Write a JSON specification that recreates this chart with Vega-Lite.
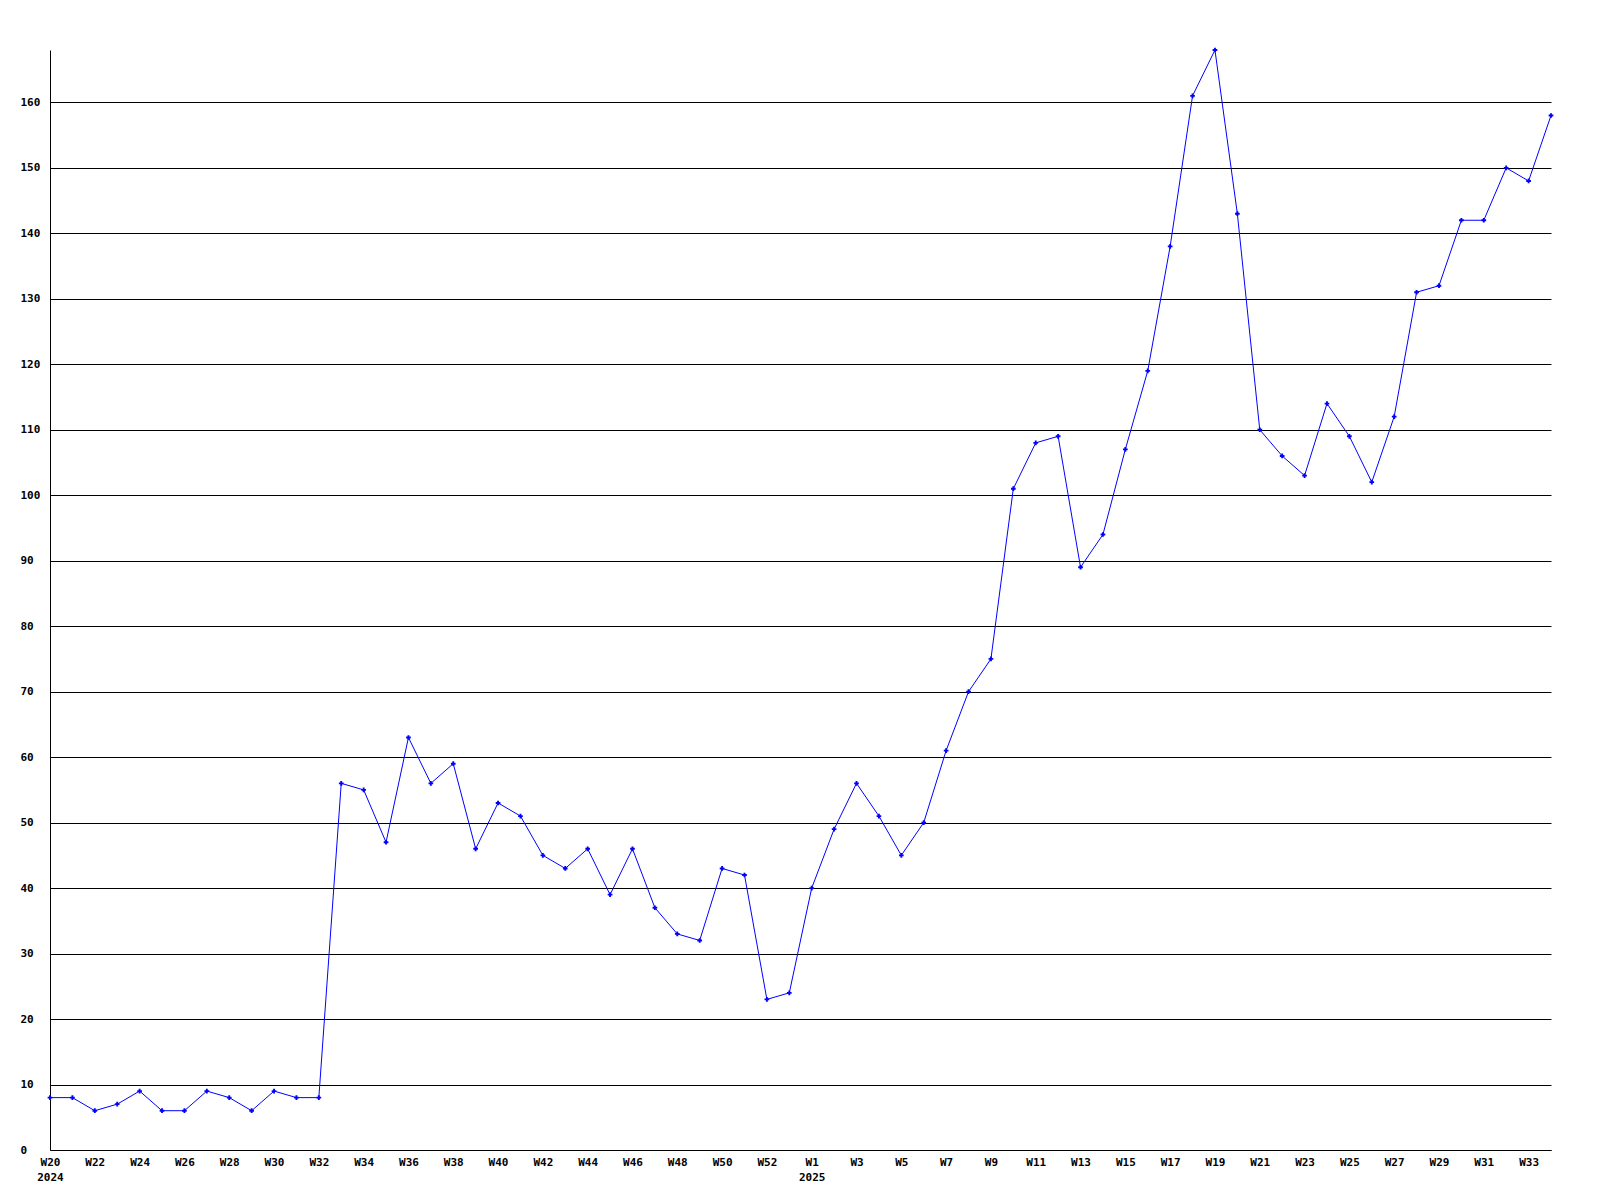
{
  "$schema": "https://vega.github.io/schema/vega-lite/v6.json",
  "autosize": {"type": "none"},
  "padding": {"left": 50, "top": 50, "right": 49, "bottom": 50},
  "width": 1501,
  "height": 1100,
  "background": "white",
  "config": {"view": {"stroke": null}},
  "data": {"values": [
    {"week": "2024-W20", "value": 8}, {"week": "2024-W21", "value": 8}, {"week": "2024-W22", "value": 6}, {"week": "2024-W23", "value": 7},
    {"week": "2024-W24", "value": 9}, {"week": "2024-W25", "value": 6}, {"week": "2024-W26", "value": 6}, {"week": "2024-W27", "value": 9},
    {"week": "2024-W28", "value": 8}, {"week": "2024-W29", "value": 6}, {"week": "2024-W30", "value": 9}, {"week": "2024-W31", "value": 8},
    {"week": "2024-W32", "value": 8}, {"week": "2024-W33", "value": 56}, {"week": "2024-W34", "value": 55}, {"week": "2024-W35", "value": 47},
    {"week": "2024-W36", "value": 63}, {"week": "2024-W37", "value": 56}, {"week": "2024-W38", "value": 59}, {"week": "2024-W39", "value": 46},
    {"week": "2024-W40", "value": 53}, {"week": "2024-W41", "value": 51}, {"week": "2024-W42", "value": 45}, {"week": "2024-W43", "value": 43},
    {"week": "2024-W44", "value": 46}, {"week": "2024-W45", "value": 39}, {"week": "2024-W46", "value": 46}, {"week": "2024-W47", "value": 37},
    {"week": "2024-W48", "value": 33}, {"week": "2024-W49", "value": 32}, {"week": "2024-W50", "value": 43}, {"week": "2024-W51", "value": 42},
    {"week": "2024-W52", "value": 23}, {"week": "2024-W53", "value": 24},
    {"week": "2025-W1", "value": 40}, {"week": "2025-W2", "value": 49}, {"week": "2025-W3", "value": 56}, {"week": "2025-W4", "value": 51},
    {"week": "2025-W5", "value": 45}, {"week": "2025-W6", "value": 50}, {"week": "2025-W7", "value": 61}, {"week": "2025-W8", "value": 70},
    {"week": "2025-W9", "value": 75}, {"week": "2025-W10", "value": 101}, {"week": "2025-W11", "value": 108}, {"week": "2025-W12", "value": 109},
    {"week": "2025-W13", "value": 89}, {"week": "2025-W14", "value": 94}, {"week": "2025-W15", "value": 107}, {"week": "2025-W16", "value": 119},
    {"week": "2025-W17", "value": 138}, {"week": "2025-W18", "value": 161}, {"week": "2025-W19", "value": 168}, {"week": "2025-W20", "value": 143},
    {"week": "2025-W21", "value": 110}, {"week": "2025-W22", "value": 106}, {"week": "2025-W23", "value": 103}, {"week": "2025-W24", "value": 114},
    {"week": "2025-W25", "value": 109}, {"week": "2025-W26", "value": 102}, {"week": "2025-W27", "value": 112}, {"week": "2025-W28", "value": 131},
    {"week": "2025-W29", "value": 132}, {"week": "2025-W30", "value": 142}, {"week": "2025-W31", "value": 142}, {"week": "2025-W32", "value": 150},
    {"week": "2025-W33", "value": 148}, {"week": "2025-W34", "value": 158}
  ]},
  "encoding": {
    "x": {
      "field": "week", "type": "ordinal", "sort": null,
      "scale": {"type": "point", "padding": 0},
      "axis": {
        "title": null, "ticks": false, "grid": false,
        "domainColor": "black", "domainWidth": 1,
        "labelAngle": 0, "labelPadding": 6, "labelLineHeight": 15,
        "labelFont": "DejaVu Sans Mono", "labelFontWeight": "bold", "labelFontSize": 11, "labelColor": "black",
        "labelOverlap": false,
        "values": ["2024-W20","2024-W22","2024-W24","2024-W26","2024-W28","2024-W30","2024-W32","2024-W34","2024-W36","2024-W38","2024-W40","2024-W42","2024-W44","2024-W46","2024-W48","2024-W50","2024-W52","2025-W1","2025-W3","2025-W5","2025-W7","2025-W9","2025-W11","2025-W13","2025-W15","2025-W17","2025-W19","2025-W21","2025-W23","2025-W25","2025-W27","2025-W29","2025-W31","2025-W33"],
        "labelExpr": "datum.value == '2024-W20' ? ['W20', '2024'] : (datum.value == '2025-W1' ? ['W1', '2025'] : slice(datum.value, 5))"
      }
    },
    "y": {
      "field": "value", "type": "quantitative",
      "scale": {"domain": [0, 168], "nice": false, "zero": true},
      "axis": {
        "title": null, "ticks": false,
        "values": [0,10,20,30,40,50,60,70,80,90,100,110,120,130,140,150,160],
        "grid": true, "gridColor": "black", "gridWidth": 1, "gridOpacity": 1,
        "domainColor": "black", "domainWidth": 1,
        "labelAlign": "left", "labelPadding": 30, "labelBaseline": "middle",
        "labelFont": "DejaVu Sans Mono", "labelFontWeight": "bold", "labelFontSize": 11, "labelColor": "black"
      }
    }
  },
  "layer": [
    {"mark": {"type": "line", "color": "#0000ff", "strokeWidth": 1}},
    {"mark": {"type": "point", "shape": "cross", "size": 22, "filled": true, "color": "#0000ff", "opacity": 1}}
  ]
}
